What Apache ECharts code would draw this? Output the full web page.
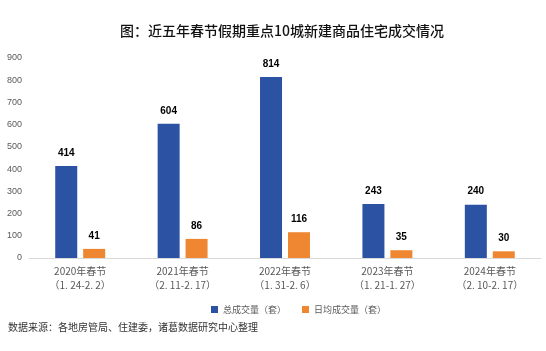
<!DOCTYPE html>
<html>
<head>
<meta charset="utf-8">
<script src="https://cdn.jsdelivr.net/npm/echarts@6/dist/echarts.min.js"></script>
<style>
  html, body { margin: 0; padding: 0; background: #fff; }
  #chart { width: 546px; height: 351px; }
</style>
</head>
<body>
<div id="chart"></div>
<script>
var categories = [
  "2020年春节\n（1. 24-2. 2）",
  "2021年春节\n（2. 11-2. 17）",
  "2022年春节\n（1. 31-2. 6）",
  "2023年春节\n（1. 21-1. 27）",
  "2024年春节\n（2. 10-2. 17）"
];
var totalDeals = [414, 604, 814, 243, 240];
var dailyDeals = [41, 86, 116, 35, 30];
var seriesNames = ["总成交量（套）", "日均成交量（套）"];

var font = '"Noto Sans CJK SC", "Noto Sans", sans-serif';
var myChart = echarts.init(document.getElementById("chart"));

var barLabel = {
  show: true,
  position: "top",
  distance: 8,
  color: "#000",
  fontSize: 10,
  fontWeight: "bold",
  fontFamily: "Arial, Liberation Sans, sans-serif"
};

var option = {
  animation: false,
  title: {
    text: "图：近五年春节假期重点10城新建商品住宅成交情况",
    left: 277,
    textAlign: "center",
    top: 19,
    textStyle: { fontSize: 14, fontWeight: "500", color: "#111", fontFamily: font }
  },
  graphic: [{
    type: "text",
    left: 8,
    top: 322,
    style: {
      text: "数据来源：各地房管局、住建委，诸葛数据研究中心整理",
      fill: "#333",
      fontSize: 10,
      fontFamily: font
    }
  }],
  legend: {
    top: 300,
    left: 206,
    itemWidth: 7,
    itemHeight: 7,
    itemGap: 16,
    icon: "rect",
    textStyle: { fontSize: 9, color: "#595959", fontFamily: font },
    data: seriesNames
  },
  grid: { left: 29, right: 5, top: 58, bottom: 93 },
  xAxis: {
    type: "category",
    data: categories,
    axisLine: { lineStyle: { color: "#d9d9d9" } },
    axisTick: { show: false },
    axisLabel: {
      color: "#595959",
      fontSize: 10,
      lineHeight: 14,
      margin: 6,
      fontFamily: font
    }
  },
  yAxis: {
    type: "value",
    min: 0,
    max: 900,
    interval: 100,
    splitLine: { show: false },
    axisLine: { show: false },
    axisTick: { show: false },
    axisLabel: { color: "#595959", fontSize: 9, margin: 7, fontFamily: "Arial, Liberation Sans, sans-serif" }
  },
  series: [
    {
      name: seriesNames[0],
      type: "bar",
      data: totalDeals,
      barWidth: 22,
      barGap: "27%",
      itemStyle: { color: "#2B52A3" },
      label: barLabel
    },
    {
      name: seriesNames[1],
      type: "bar",
      data: dailyDeals,
      barWidth: 22,
      itemStyle: { color: "#EE8632" },
      label: barLabel
    }
  ]
};

myChart.setOption(option);
</script>
</body>
</html>
